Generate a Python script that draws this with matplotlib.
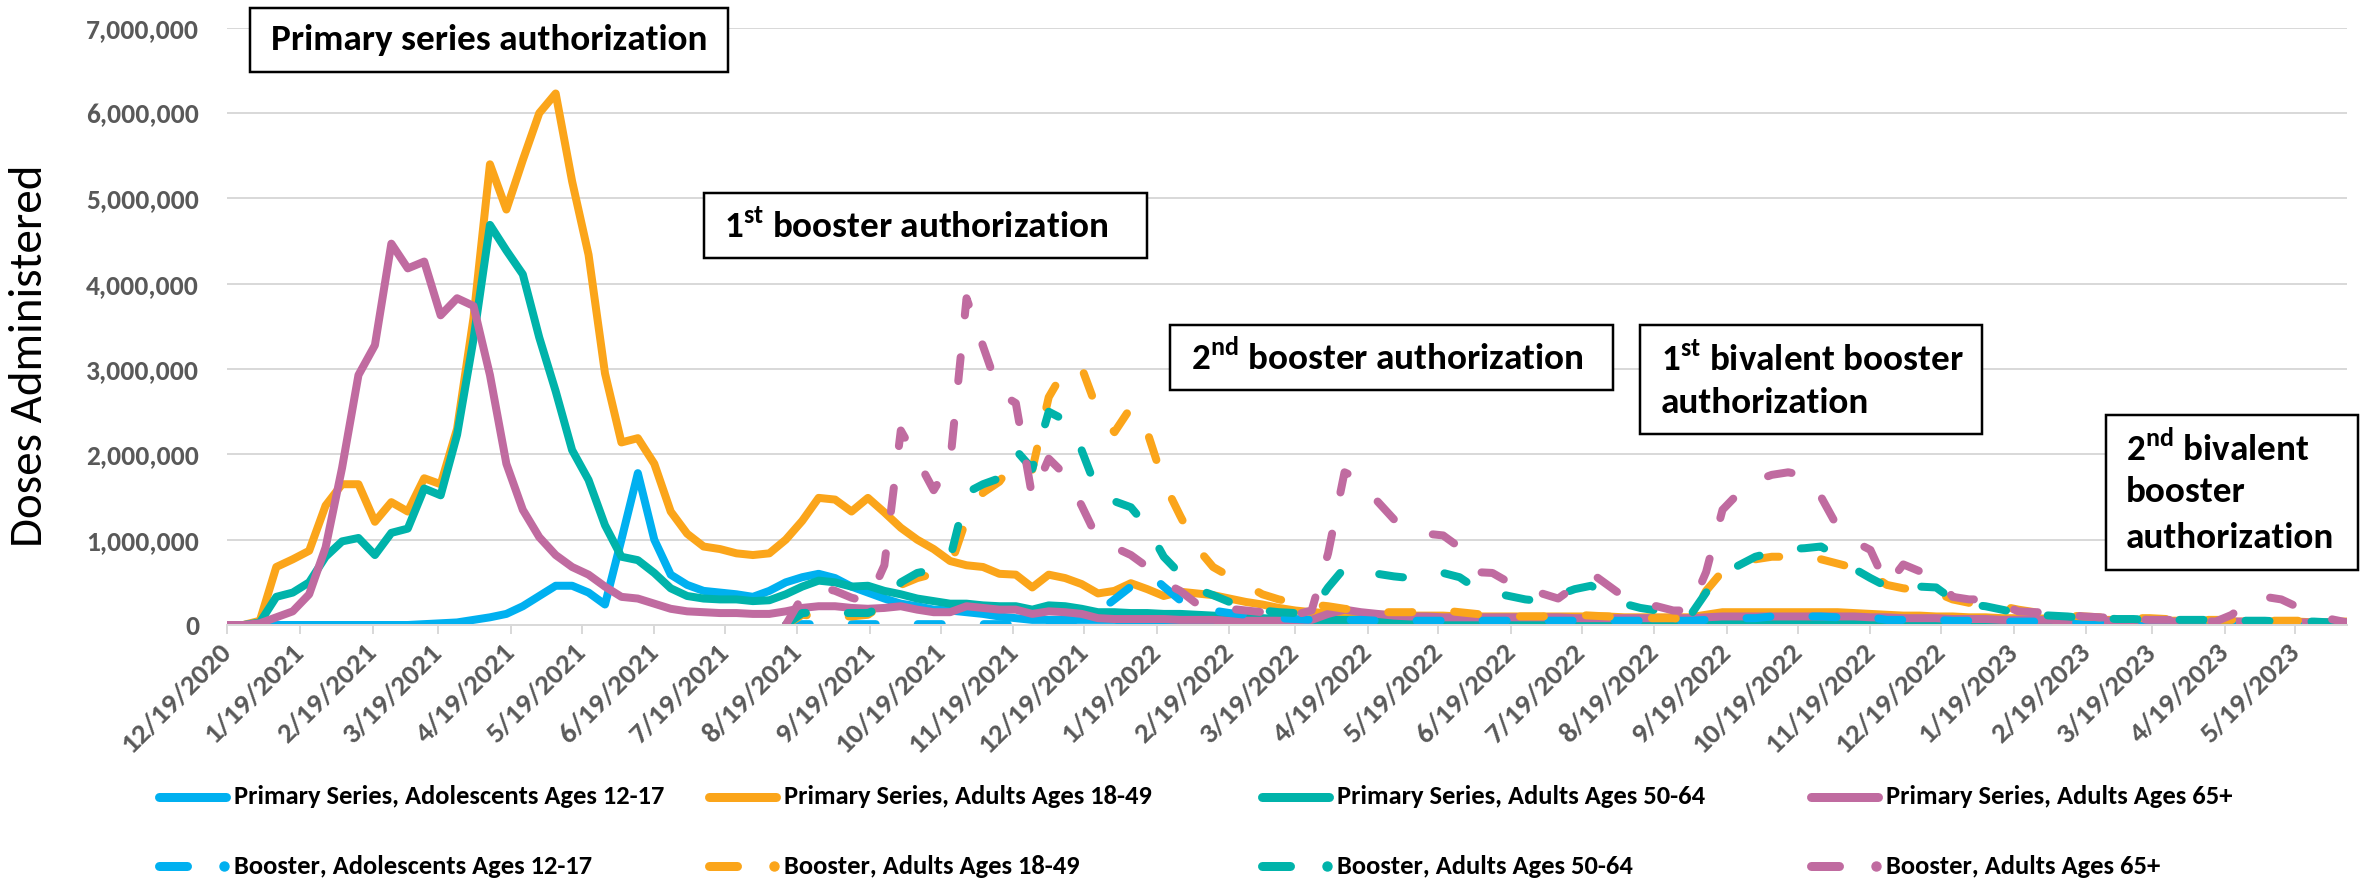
import numpy as np
import pandas as pd
import matplotlib
matplotlib.use('Agg')
import matplotlib.pyplot as plt
from matplotlib import font_manager as fm
from matplotlib.lines import Line2D
from matplotlib.patches import Rectangle

# ---------------- data (doses administered, millions, weekly) ----------------
START_DATE = '2020-12-19'
N_WEEKS = 130
BOOSTER_START_WEEK = 34

primary_12_17 = [
    0, 0, 0, 0, 0, 0, 0, 0, 0, 0,
    0, 0, 0.01, 0.02, 0.03, 0.06, 0.09, 0.13, 0.22, 0.34,
    0.46, 0.46, 0.38, 0.24, 1.00, 1.78, 1.00, 0.59, 0.47, 0.40,
    0.38, 0.36, 0.33, 0.40, 0.50, 0.56, 0.60, 0.55, 0.45, 0.38,
    0.31, 0.25, 0.22, 0.18, 0.17, 0.15, 0.13, 0.10, 0.08, 0.06,
    0.06, 0.06, 0.06, 0.06, 0.06, 0.05, 0.05, 0.05, 0.05, 0.04,
    0.04, 0.04, 0.03, 0.03, 0.03, 0.03, 0.03, 0.03, 0.03, 0.03,
    0.03, 0.03, 0.02, 0.02, 0.02, 0.02, 0.02, 0.02, 0.02, 0.02,
    0.02, 0.02, 0.02, 0.02, 0.02, 0.02, 0.02, 0.02, 0.02, 0.02,
    0.03, 0.03, 0.03, 0.03, 0.03, 0.03, 0.03, 0.03, 0.03, 0.03,
    0.03, 0.02, 0.02, 0.02, 0.02, 0.02, 0.02, 0.02, 0.02, 0.02,
    0.02, 0.02, 0.02, 0.02, 0.01, 0.01, 0.01, 0.01, 0.01, 0.01,
    0.01, 0.01, 0.01, 0.01, 0.01, 0.01, 0.01, 0.01, 0.01, 0.01]

primary_18_49 = [
    0, 0, 0.05, 0.68, 0.77, 0.87, 1.40, 1.65, 1.65, 1.21,
    1.44, 1.33, 1.72, 1.65, 2.30, 3.60, 5.40, 4.87, 5.45, 6.00,
    6.23, 5.20, 4.34, 2.95, 2.14, 2.19, 1.89, 1.33, 1.07, 0.92,
    0.89, 0.84, 0.82, 0.84, 1.00, 1.22, 1.49, 1.47, 1.33, 1.49,
    1.32, 1.14, 1.00, 0.89, 0.75, 0.70, 0.68, 0.60, 0.59, 0.44,
    0.59, 0.55, 0.48, 0.37, 0.40, 0.49, 0.42, 0.34, 0.39, 0.37,
    0.35, 0.31, 0.27, 0.24, 0.20, 0.17, 0.15, 0.14, 0.14, 0.13,
    0.12, 0.12, 0.11, 0.11, 0.11, 0.10, 0.10, 0.10, 0.10, 0.10,
    0.10, 0.10, 0.10, 0.10, 0.10, 0.09, 0.09, 0.09, 0.09, 0.09,
    0.12, 0.15, 0.15, 0.15, 0.15, 0.15, 0.15, 0.15, 0.15, 0.14,
    0.13, 0.12, 0.11, 0.11, 0.10, 0.10, 0.09, 0.09, 0.08, 0.08,
    0.08, 0.07, 0.07, 0.07, 0.06, 0.06, 0.06, 0.05, 0.05, 0.05,
    0.05, 0.05, 0.04, 0.04, 0.04, 0.04, 0.04, 0.03, 0.03, 0.03]

primary_50_64 = [
    0, 0, 0.03, 0.33, 0.38, 0.50, 0.80, 0.98, 1.02, 0.82,
    1.08, 1.13, 1.60, 1.52, 2.23, 3.35, 4.69, 4.39, 4.11, 3.37,
    2.74, 2.05, 1.70, 1.17, 0.80, 0.76, 0.61, 0.43, 0.34, 0.31,
    0.30, 0.30, 0.28, 0.29, 0.36, 0.45, 0.52, 0.50, 0.45, 0.46,
    0.40, 0.36, 0.31, 0.28, 0.25, 0.25, 0.23, 0.22, 0.22, 0.18,
    0.23, 0.22, 0.19, 0.15, 0.15, 0.14, 0.14, 0.13, 0.13, 0.12,
    0.11, 0.10, 0.09, 0.08, 0.07, 0.06, 0.06, 0.06, 0.06, 0.06,
    0.05, 0.05, 0.05, 0.04, 0.04, 0.04, 0.04, 0.04, 0.04, 0.04,
    0.04, 0.04, 0.04, 0.04, 0.04, 0.04, 0.04, 0.03, 0.03, 0.03,
    0.04, 0.05, 0.05, 0.05, 0.05, 0.05, 0.05, 0.05, 0.05, 0.05,
    0.04, 0.04, 0.04, 0.04, 0.03, 0.03, 0.03, 0.03, 0.03, 0.03,
    0.03, 0.03, 0.03, 0.02, 0.02, 0.02, 0.02, 0.02, 0.02, 0.02,
    0.02, 0.02, 0.02, 0.02, 0.02, 0.02, 0.02, 0.02, 0.02, 0.02]

primary_65 = [
    0, 0, 0.02, 0.09, 0.16, 0.36, 0.91, 1.84, 2.93, 3.28,
    4.47, 4.18, 4.26, 3.63, 3.83, 3.74, 2.93, 1.89, 1.35, 1.03,
    0.82, 0.68, 0.59, 0.45, 0.33, 0.31, 0.25, 0.19, 0.16, 0.15,
    0.14, 0.14, 0.13, 0.13, 0.16, 0.20, 0.22, 0.22, 0.20, 0.19,
    0.20, 0.22, 0.18, 0.15, 0.15, 0.22, 0.20, 0.18, 0.18, 0.13,
    0.16, 0.15, 0.13, 0.08, 0.07, 0.07, 0.07, 0.07, 0.06, 0.06,
    0.06, 0.05, 0.05, 0.05, 0.05, 0.05, 0.06, 0.13, 0.18, 0.15,
    0.13, 0.11, 0.10, 0.10, 0.09, 0.09, 0.09, 0.09, 0.09, 0.09,
    0.09, 0.09, 0.08, 0.08, 0.08, 0.08, 0.08, 0.08, 0.08, 0.08,
    0.09, 0.10, 0.10, 0.10, 0.10, 0.10, 0.10, 0.10, 0.10, 0.10,
    0.09, 0.09, 0.08, 0.08, 0.08, 0.07, 0.07, 0.07, 0.06, 0.06,
    0.06, 0.06, 0.05, 0.05, 0.05, 0.05, 0.05, 0.04, 0.04, 0.04,
    0.04, 0.04, 0.04, 0.04, 0.04, 0.03, 0.03, 0.03, 0.03, 0.03]

# booster series, starting at week BOOSTER_START_WEEK
booster_12_17 = [
    0, 0.01, 0.01, 0.01, 0.01, 0.01, 0.01, 0.01, 0.01, 0.01,
    0.01, 0.01, 0.01, 0.01, 0.01, 0.01, 0.01, 0.01, 0.07, 0.15,
    0.30, 0.45, 0.62, 0.45, 0.29, 0.21, 0.17, 0.14, 0.12, 0.09,
    0.08, 0.07, 0.06, 0.06, 0.06, 0.06, 0.05, 0.05, 0.05, 0.05,
    0.05, 0.05, 0.05, 0.05, 0.05, 0.05, 0.05, 0.05, 0.05, 0.05,
    0.05, 0.05, 0.05, 0.05, 0.05, 0.05, 0.06, 0.08, 0.08, 0.08,
    0.10, 0.10, 0.10, 0.10, 0.09, 0.09, 0.09, 0.06, 0.06, 0.06,
    0.06, 0.05, 0.05, 0.05, 0.04, 0.04, 0.04, 0.04, 0.03, 0.03,
    0.03, 0.03, 0.03, 0.03, 0.03, 0.03, 0.02, 0.02, 0.02, 0.02,
    0.02, 0.02, 0.02, 0.02, 0.02, 0.02]

booster_18_49 = [
    0, 0.12, 0.10, 0.10, 0.10, 0.12, 0.25, 0.47, 0.55, 0.60,
    0.68, 1.25, 1.55, 1.68, 1.95, 1.82, 2.67, 3.00, 3.02, 2.50,
    2.26, 2.55, 2.26, 1.67, 1.28, 0.91, 0.68, 0.57, 0.47, 0.36,
    0.30, 0.26, 0.24, 0.22, 0.19, 0.17, 0.15, 0.15, 0.15, 0.16,
    0.17, 0.15, 0.13, 0.11, 0.10, 0.10, 0.10, 0.11, 0.12, 0.11,
    0.10, 0.09, 0.08, 0.08, 0.08, 0.06, 0.40, 0.63, 0.72, 0.77,
    0.80, 0.80, 0.80, 0.77, 0.72, 0.67, 0.60, 0.47, 0.43, 0.41,
    0.38, 0.30, 0.26, 0.25, 0.22, 0.18, 0.15, 0.13, 0.11, 0.10,
    0.09, 0.09, 0.08, 0.08, 0.07, 0.07, 0.06, 0.06, 0.06, 0.05,
    0.05, 0.05, 0.05, 0.04, 0.04, 0.04]

booster_50_64 = [
    0, 0.14, 0.15, 0.14, 0.14, 0.14, 0.22, 0.50, 0.61, 0.65,
    0.78, 1.55, 1.65, 1.72, 2.05, 1.83, 2.50, 2.40, 2.05, 1.55,
    1.45, 1.38, 1.15, 0.80, 0.60, 0.42, 0.35, 0.27, 0.22, 0.17,
    0.15, 0.14, 0.16, 0.44, 0.67, 0.65, 0.60, 0.57, 0.55, 0.58,
    0.61, 0.56, 0.43, 0.38, 0.34, 0.30, 0.28, 0.35, 0.42, 0.46,
    0.35, 0.25, 0.20, 0.17, 0.13, 0.10, 0.38, 0.60, 0.70, 0.80,
    0.85, 0.89, 0.90, 0.92, 0.80, 0.66, 0.55, 0.45, 0.46, 0.45,
    0.44, 0.30, 0.24, 0.22, 0.18, 0.14, 0.12, 0.11, 0.10, 0.08,
    0.08, 0.07, 0.07, 0.06, 0.06, 0.06, 0.06, 0.06, 0.05, 0.05,
    0.05, 0.04, 0.04, 0.04, 0.03, 0.03]

booster_65 = [
    0, 0.33, 0.45, 0.40, 0.32, 0.27, 0.70, 2.28, 1.94, 1.58,
    1.90, 3.83, 3.27, 2.72, 2.60, 1.50, 1.95, 1.76, 1.40, 1.00,
    0.91, 0.82, 0.68, 0.50, 0.40, 0.25, 0.21, 0.19, 0.17, 0.15,
    0.125, 0.12, 0.17, 0.84, 1.79, 1.70, 1.45, 1.24, 1.15, 1.07,
    1.05, 0.91, 0.62, 0.61, 0.50, 0.40, 0.37, 0.31, 0.45, 0.61,
    0.47, 0.33, 0.25, 0.22, 0.17, 0.17, 0.62, 1.35, 1.55, 1.69,
    1.76, 1.79, 1.75, 1.50, 1.15, 0.98, 0.88, 0.46, 0.71, 0.63,
    0.57, 0.33, 0.30, 0.30, 0.24, 0.16, 0.15, 0.15, 0.12, 0.10,
    0.09, 0.08, 0.07, 0.06, 0.06, 0.06, 0.05, 0.04, 0.12, 0.29,
    0.33, 0.30, 0.21, 0.15, 0.07, 0.03]

labels_primary = ['Primary Series, Adolescents Ages 12-17', 'Primary Series, Adults Ages 18-49',
                  'Primary Series, Adults Ages 50-64', 'Primary Series, Adults Ages 65+']
labels_booster = ['Booster, Adolescents Ages 12-17', 'Booster, Adults Ages 18-49',
                  'Booster, Adults Ages 50-64', 'Booster, Adults Ages 65+']
colors = ['#00B0F0', '#FBA51A', '#00B3AA', '#C06BA0']

y_label = 'Doses Administered'
y_max = 7_000_000
y_step = 1_000_000

# ---------------- fonts ----------------
names = {f.name for f in fm.fontManager.ttflist}
FONT = next(f for f in ['Carlito', 'Liberation Sans Narrow', 'Liberation Sans', 'DejaVu Sans'] if f in names)
plt.rcParams['font.family'] = [FONT, 'DejaVu Sans']
plt.rcParams['mathtext.fontset'] = 'custom'
plt.rcParams['mathtext.rm'] = FONT
plt.rcParams['mathtext.bf'] = FONT + ':bold'

W, H, DPI = 2362, 881, 100
fig = plt.figure(figsize=(W / DPI, H / DPI), dpi=DPI)
renderer = fig.canvas.get_renderer()


def fit(s, target_px, weight='bold', ref=20.0):
    t = fig.text(0, 0, s, fontsize=ref, fontweight=weight)
    w = t.get_window_extent(renderer).width
    t.remove()
    return ref * target_px / w


def fx(x):
    return x / W


def fy(y):
    return 1 - y / H


PX = 72.0 / DPI  # points per pixel

fs_ytick = fit('7,000,000', 112)
fs_xtick = fit('12/19/2020', 143)
fs_leg = fit(labels_primary[0], 431)
fs_ann = fit('Primary series authorization', 436)
fs_ylab = fit(y_label, 381, weight='normal')

# ---------------- axes ----------------
ax = fig.add_axes([fx(227), fy(625), fx(2347) - fx(227), fy(27.8) - fy(625)])
weeks = pd.date_range(START_DATE, periods=N_WEEKS, freq='7D')

LW = 8 * PX
primary = [primary_12_17, primary_18_49, primary_50_64, primary_65]
booster = [booster_12_17, booster_18_49, booster_50_64, booster_65]
for vals, c in zip(primary, colors):
    ax.plot(weeks, np.array(vals) * 1e6, color=c, lw=LW, solid_capstyle='round',
            solid_joinstyle='round')
for vals, c in zip(booster, colors):
    full = np.full(N_WEEKS, np.nan)
    full[BOOSTER_START_WEEK:BOOSTER_START_WEEK + len(vals)] = np.array(vals) * 1e6
    ax.plot(weeks, full, color=c, lw=LW, linestyle=(0, (3.0, 5.25)),
            dash_capstyle='round', dash_joinstyle='round')

ax.set_xlim(weeks[0], weeks[-1])
ax.set_ylim(0, y_max)
ax.set_yticks(np.arange(0, y_max + 1, y_step))
ax.set_yticklabels([f'{int(v):,}' for v in np.arange(0, y_max + 1, y_step)])
tick_dates = pd.date_range(START_DATE, weeks[-1], freq=pd.DateOffset(months=1))
ax.set_xticks(tick_dates)
ax.set_xticklabels([f'{d.month}/{d.day}/{d.year}' for d in tick_dates])

ax.grid(axis='y', color='#D9D9D9', lw=2 * PX)
ax.set_axisbelow(True)
for s in ['left', 'top', 'right']:
    ax.spines[s].set_visible(False)
ax.spines['bottom'].set_color('#D9D9D9')
ax.spines['bottom'].set_linewidth(2 * PX)
ax.tick_params(axis='y', length=0, pad=28 * PX, labelsize=fs_ytick, labelcolor='#595959')
ax.tick_params(axis='x', length=9 * PX, width=2 * PX, color='#D9D9D9', direction='out',
               labelsize=fs_xtick, labelcolor='#595959', pad=14 * PX)
for lab in ax.get_yticklabels():
    lab.set_fontweight('bold')
for lab in ax.get_xticklabels():
    lab.set_fontweight('bold')
    lab.set_rotation(45)
    lab.set_ha('right')
    lab.set_va('center')
    lab.set_rotation_mode('anchor')

fig.text(fx(30), fy(356), y_label, rotation=90, ha='center', va='center', fontsize=fs_ylab,
         color='black')

# ---------------- legend (drawn manually) ----------------
col_x = [155, 705, 1258, 1807]
row1_y, row2_y = 797, 866
for k in range(4):
    x0 = col_x[k]
    fig.add_artist(Line2D([fx(x0 + 4), fx(x0 + 71)], [fy(row1_y)] * 2, color=colors[k],
                          lw=9 * PX, solid_capstyle='round', transform=fig.transFigure))
    fig.text(fx(x0 + 79), fy(row1_y), labels_primary[k], ha='left', va='center',
             fontsize=fs_leg, fontweight='bold', color='black')
    fig.add_artist(Line2D([fx(x0 + 4), fx(x0 + 32)], [fy(row2_y)] * 2, color=colors[k],
                          lw=9 * PX, solid_capstyle='round', transform=fig.transFigure))
    fig.add_artist(Line2D([fx(x0 + 69)], [fy(row2_y)], color=colors[k], marker='o',
                          markersize=9 * PX, lw=0, transform=fig.transFigure))
    fig.text(fx(x0 + 79), fy(row2_y), labels_booster[k], ha='left', va='center',
             fontsize=fs_leg, fontweight='bold', color='black')

# ---------------- annotation boxes ----------------
boxes = [
    ((250, 8, 728, 72), 271, [(40, 'Primary series authorization')]),
    ((704, 193, 1147, 258), 724, [(226, r'1$^{\mathbf{st}}$ booster authorization')]),
    ((1170, 325, 1613, 390), 1191, [(357, r'2$^{\mathbf{nd}}$ booster authorization')]),
    ((1640, 325, 1982, 434), 1661, [(359, r'1$^{\mathbf{st}}$ bivalent booster'),
                                    (403, 'authorization')]),
    ((2106, 415, 2358, 570), 2126, [(448, r'2$^{\mathbf{nd}}$ bivalent'), (492, 'booster'),
                                    (538, 'authorization')]),
]
for (x0, y0, x1, y1), tx, lines in boxes:
    fig.add_artist(Rectangle((fx(x0), fy(y1)), fx(x1) - fx(x0), fy(y0) - fy(y1),
                             transform=fig.transFigure, facecolor='white', edgecolor='black',
                             lw=2.5 * PX, zorder=5))
    for ly, txt in lines:
        fig.text(fx(tx), fy(ly), txt, ha='left', va='center', fontsize=fs_ann,
                 fontweight='bold', color='black', zorder=6)

fig.savefig('out.png', dpi=DPI)
